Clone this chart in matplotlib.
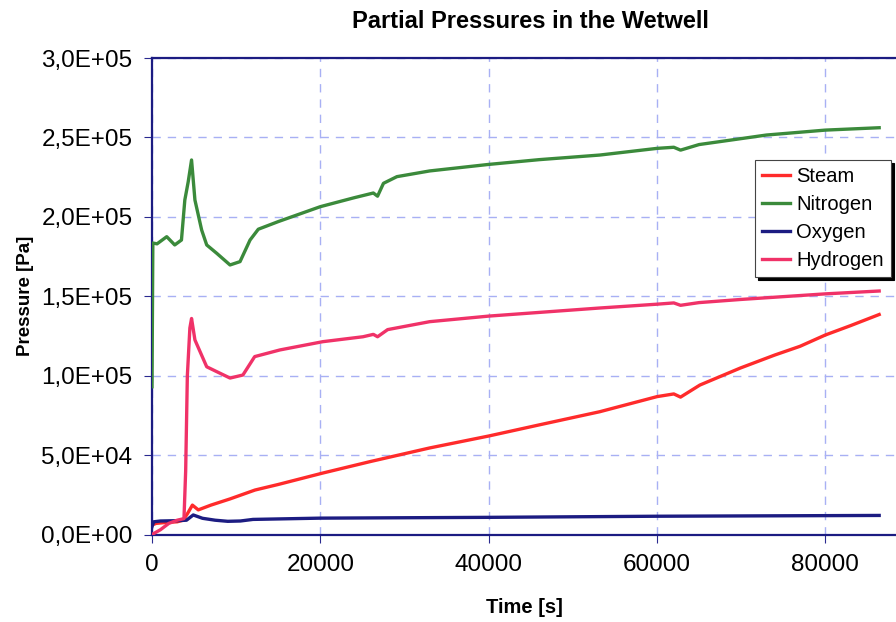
import numpy as np
import matplotlib.pyplot as plt
from matplotlib.ticker import FuncFormatter

plt.rcParams['font.family'] = ['Liberation Sans', 'DejaVu Sans']

# Time [s] and partial pressures [Pa]
t_steam = [0, 500, 1500, 3000, 3700, 4200, 4800, 5500, 7000, 9270, 12240, 15000,
           20300, 26000, 33000, 40000, 46000, 53200, 60000, 62000, 62800, 65100,
           69900, 74000, 77000, 80000, 83000, 86400]
steam = [6000, 7000, 7500, 8000, 9000, 13000, 18500, 15500, 18500, 22400, 28000, 31500,
         38700, 46000, 54500, 62000, 69000, 77300, 86800, 88500, 86500, 94100,
         104800, 113000, 118500, 125600, 131500, 138500]

t_nitrogen = [0, 100, 600, 1750, 2700, 3500, 3900, 4300, 4700, 5100, 5900, 6500,
              7700, 9270, 10460, 11650, 12630, 15000, 20000, 24000, 26300, 26800,
              27500, 29100, 33000, 40000, 46000, 53200, 60000, 62000, 62800, 65000,
              73000, 80000, 86400]
nitrogen = [93000, 183500, 183000, 187500, 182300, 185400, 210600, 222000, 235800, 210600,
            191700, 182300, 177000, 169700, 171800, 185400, 192200, 197000, 206400, 212000,
            215000, 213000, 221100, 225300, 228900, 233000, 236000, 238900, 243100, 243800,
            242000, 245500, 251500, 254600, 256100]

t_oxygen = [0, 200, 1000, 3000, 4100, 4900, 6000, 7500, 9000, 10500, 12000,
            20000, 40000, 60000, 86400]
oxygen = [4900, 8000, 8500, 8700, 9000, 12300, 10200, 9000, 8300, 8500, 9500,
          10300, 10800, 11500, 12000]

t_hydrogen = [0, 1000, 2000, 3000, 3800, 4000, 4200, 4500, 4700, 5100, 6500, 7700,
              9270, 10800, 12200, 15200, 20300, 25070, 26300, 26800, 28000, 33000,
              40000, 53200, 60000, 62000, 62800, 65000, 70000, 80000, 86400]
hydrogen = [0, 3000, 7000, 9000, 10000, 40000, 100000, 130000, 136000, 122500, 105600, 102500,
            98500, 100400, 112000, 116200, 121400, 124500, 126000, 124500, 129000, 134000,
            137500, 142600, 145000, 145800, 144300, 146000, 148000, 151500, 153300]

series = [
    ('Steam', t_steam, steam, '#ff2b2b'),
    ('Nitrogen', t_nitrogen, nitrogen, '#3b8a3b'),
    ('Oxygen', t_oxygen, oxygen, '#1c1c82'),
    ('Hydrogen', t_hydrogen, hydrogen, '#f03268'),
]

fig = plt.figure(figsize=(8.96, 6.22), dpi=100)
ax = fig.add_axes([152 / 896, 1 - 534.5 / 622, 1 - 152 / 896, 476.5 / 622])

for name, t, p, c in series:
    ax.plot(t, p, color=c, lw=2.4, label=name, zorder=3)

ax.set_xlim(0, 88400)
ax.set_ylim(0, 300000)
ax.set_xticks([0, 20000, 40000, 60000, 80000])
ax.set_yticks(np.arange(0, 300001, 50000))
ax.yaxis.set_major_formatter(FuncFormatter(
    lambda v, pos: ('%.1E' % v).replace('.', ',')))

ax.grid(True, color='#a8b0f4', linestyle=(0, (6, 5)), lw=1.0)
ax.tick_params(labelsize=17.5, length=6, color='#2a2a90', direction='out')
ax.tick_params(axis='x', pad=8)
ax.tick_params(axis='y', pad=8)
for s in ['left', 'top', 'bottom']:
    ax.spines[s].set_color('#1c1c82')
    ax.spines[s].set_linewidth(1.6)
ax.spines['right'].set_visible(False)

fig.text(530 / 896, 1 - 22 / 622, 'Partial Pressures in the Wetwell', ha='center', va='center',
         fontsize=17, fontweight='bold')
ax.set_xlabel('Time [s]', fontsize=14.5, fontweight='bold', labelpad=16)
ax.set_ylabel('Pressure [Pa]', fontsize=13.5, fontweight='bold', labelpad=5)

leg = ax.legend(loc='upper left', bbox_to_anchor=(755 / 896, 1 - 160 / 622),
                bbox_transform=fig.transFigure, fontsize=14.5, frameon=True,
                fancybox=False, framealpha=1, edgecolor='#444444',
                shadow={'color': 'black', 'alpha': 1},
                handlelength=1.4, handletextpad=0.3, labelspacing=0.45,
                borderpad=0.35, borderaxespad=0)
leg.get_frame().set_linewidth(0.8)
for line in leg.get_lines():
    line.set_linewidth(2.4)

fig.savefig('out.png', dpi=100)
